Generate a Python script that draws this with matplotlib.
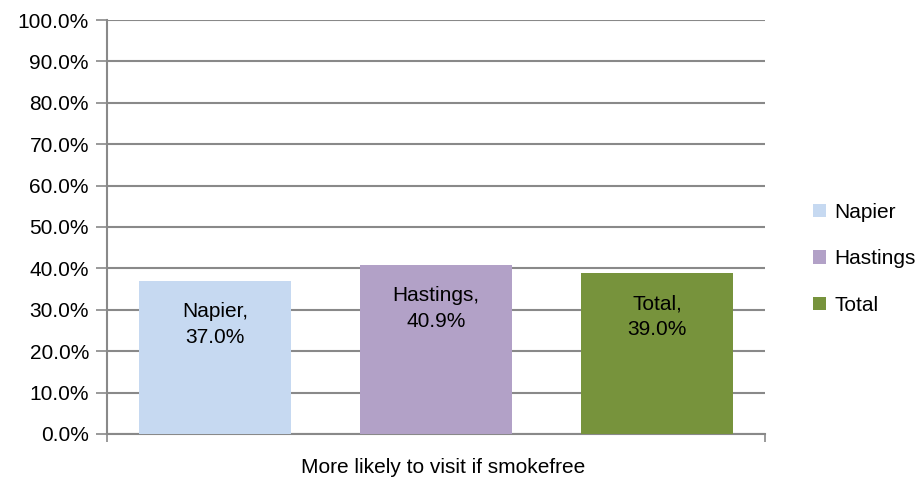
import numpy as np
import matplotlib.pyplot as plt
from matplotlib.patches import Patch
from matplotlib.ticker import FuncFormatter

plt.rcParams['font.family'] = ['Liberation Sans', 'DejaVu Sans']

series = ["Napier", "Hastings", "Total"]
values = [37.0, 40.9, 39.0]
colors = ["#C6D9F1", "#B2A1C7", "#77933C"]
category = "More likely to visit if smokefree"

grid_col = "#898989"
fs = 15

fig = plt.figure(figsize=(9.2, 4.82), dpi=100)
ax = fig.add_axes([0.1163, 0.0996, 0.7152, 0.8589])

offsets = [-0.336, 0.0, 0.336]
for name, v, c, off in zip(series, values, colors, offsets):
    ax.bar(off, v, width=0.23, color=c, zorder=3)
    ax.annotate("%s,\n%.1f%%" % (name, v), xy=(off, v), xytext=(0, -44),
                textcoords="offset pixels", ha="center", va="center",
                fontsize=fs, linespacing=1.45, zorder=4)

ax.set_xlim(-0.5, 0.5)
ax.set_ylim(0, 100)
ax.set_yticks(np.arange(0, 101, 10))
ax.yaxis.set_major_formatter(FuncFormatter(lambda y, p: "%.1f%%" % y))
ax.yaxis.grid(True, color=grid_col, linewidth=1.5, zorder=0)

ax.set_xticks([-0.5, 0.5])
ax.set_xticklabels(["", ""])
ax.tick_params(axis="x", length=6, width=1.2, color=grid_col, direction="out")
ax.tick_params(axis="y", length=8, width=1.2, color=grid_col, labelsize=fs, pad=5)
ax.set_xlabel(category, fontsize=fs)
ax.xaxis.set_label_coords(0.511, -0.058)

for s in ["top", "right"]:
    ax.spines[s].set_visible(False)
for s in ["left", "bottom"]:
    ax.spines[s].set_color(grid_col)
    ax.spines[s].set_linewidth(1.5)

handles = [Patch(facecolor=c, edgecolor="none") for c in colors]
fig.legend(handles, series, loc="center left", bbox_to_anchor=(0.875, 0.463),
           frameon=False, fontsize=fs, handlelength=0.6, handleheight=0.6,
           handletextpad=0.4, labelspacing=1.32, borderaxespad=0)

fig.savefig("out.png", dpi=100)
